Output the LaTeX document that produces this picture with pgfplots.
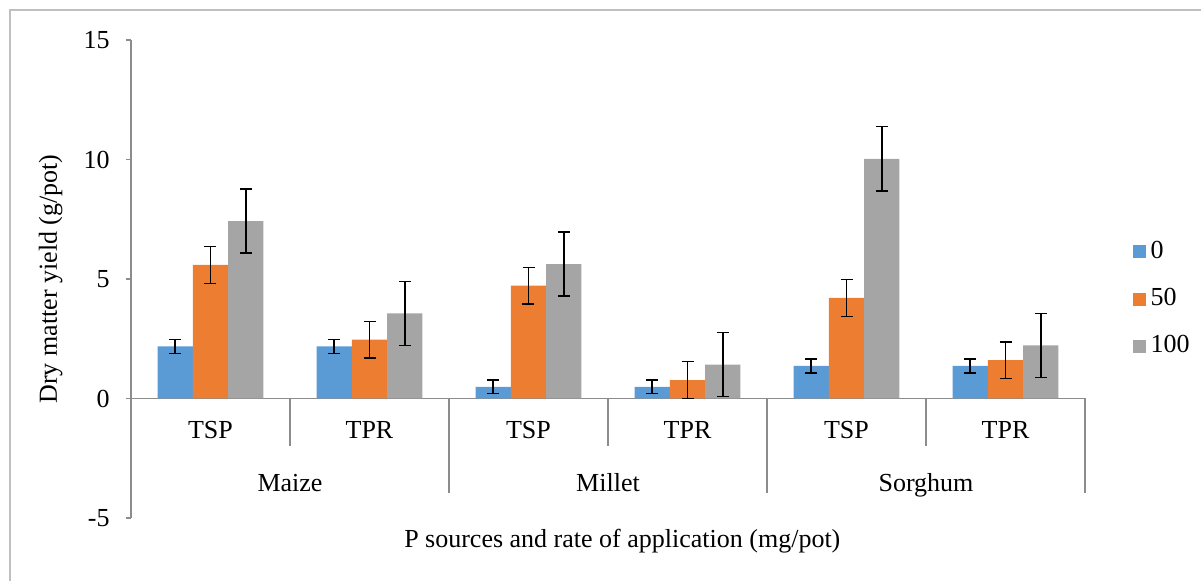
\documentclass[border=0pt]{standalone}
\usepackage{fontspec}
\setmainfont{Liberation Serif}
\usepackage{pgfplots}
\pgfplotsset{compat=1.18}

\definecolor{sZero}{HTML}{5B9BD5}
\definecolor{sFifty}{HTML}{ED7D31}
\definecolor{sHundred}{HTML}{A5A5A5}
\definecolor{axgray}{HTML}{8C8C8C}
\definecolor{framegray}{HTML}{BFBFBF}

\pgfplotsset{
  errstyle/.style={
    error bars/.cd, y dir=both, y explicit, error mark=|,
    error bar style={draw=black, line width=0.75pt},
    error mark options={draw=black, mark size=3pt, line width=0.75pt}},
  sq/.style={legend image code/.code={\fill[#1] (0pt,-3.25pt) rectangle (6.5pt,3.25pt);}},
}

\begin{document}
\fontsize{13}{15}\selectfont
\begin{tikzpicture}
\useasboundingbox (-65.5pt,-31.5pt) rectangle (535pt,259pt);
\draw[framegray, line width=0.6pt] (-60.5pt,-31.5pt) -- (-60.5pt,254pt) -- (535pt,254pt);
\begin{axis}[
    scale only axis, width=477pt, height=239pt,
    ybar=0pt, bar width=17.65pt,
    xmin=-0.5, xmax=5.5, ymin=-5, ymax=15,
    axis x line*=middle, axis y line*=left,
    axis line style={axgray, line width=0.6pt},
    xtick=\empty,
    ytick={-5,0,5,10,15}, yticklabels={-5,0,5,10,15},
    tick style={axgray, line width=0.6pt},
    tick align=outside, major tick length=2.5pt,
    yticklabel style={anchor=east, inner sep=0pt, xshift=-8pt},
    ylabel={Dry matter yield (g/pot)},
    xlabel={P sources and rate of application (mg/pot)},
    every axis y label/.style={at={(axis description cs:-0.0776,0.5)}, rotate=90, anchor=base},
    every axis x label/.style={at={(axis description cs:0.515,0)}, anchor=base, yshift=-15pt},
    clip=false,
    legend style={draw=none, fill=none, at={(1.044,0.458)}, anchor=west,
        row sep=13pt, nodes={inner sep=0pt, anchor=west}},
    legend cell align=left,
]
\addplot[fill=sZero, draw=none, sq=sZero, errstyle]
    coordinates {(0,2.18) +- (0,0.29) (1,2.18) +- (0,0.29) (2,0.49) +- (0,0.29)
                 (3,0.49) +- (0,0.29) (4,1.36) +- (0,0.29) (5,1.36) +- (0,0.29)};
\addlegendentry{\,0}
\addplot[fill=sFifty, draw=none, sq=sFifty, errstyle]
    coordinates {(0,5.59) +- (0,0.77) (1,2.46) +- (0,0.77) (2,4.72) +- (0,0.77)
                 (3,0.77) +- (0,0.77) (4,4.21) +- (0,0.77) (5,1.60) +- (0,0.77)};
\addlegendentry{\,50}
\addplot[fill=sHundred, draw=none, sq=sHundred, errstyle]
    coordinates {(0,7.42) +- (0,1.34) (1,3.56) +- (0,1.34) (2,5.62) +- (0,1.34)
                 (3,1.42) +- (0,1.34) (4,10.03) +- (0,1.34) (5,2.22) +- (0,1.34)};
\addlegendentry{\,100}

% category separators below the zero line
\pgfplotsinvokeforeach{0.5,2.5,4.5}{
  \draw[axgray, line width=0.6pt] (axis cs:#1,0) -- ++(0pt,-23.85pt);
}
\pgfplotsinvokeforeach{1.5,3.5,5.5}{
  \draw[axgray, line width=0.6pt] (axis cs:#1,0) -- ++(0pt,-47.35pt);
}

% source labels and crop labels
\node[anchor=base] at ([yshift=-20pt]axis cs:0,0) {TSP};
\node[anchor=base] at ([yshift=-20pt]axis cs:1,0) {TPR};
\node[anchor=base] at ([yshift=-20pt]axis cs:2,0) {TSP};
\node[anchor=base] at ([yshift=-20pt]axis cs:3,0) {TPR};
\node[anchor=base] at ([yshift=-20pt]axis cs:4,0) {TSP};
\node[anchor=base] at ([yshift=-20pt]axis cs:5,0) {TPR};
\node[anchor=base] at ([yshift=-46.5pt]axis cs:0.5,0) {Maize};
\node[anchor=base] at ([yshift=-46.5pt]axis cs:2.5,0) {Millet};
\node[anchor=base] at ([yshift=-46.5pt]axis cs:4.5,0) {Sorghum};
\end{axis}
\end{tikzpicture}
\end{document}
